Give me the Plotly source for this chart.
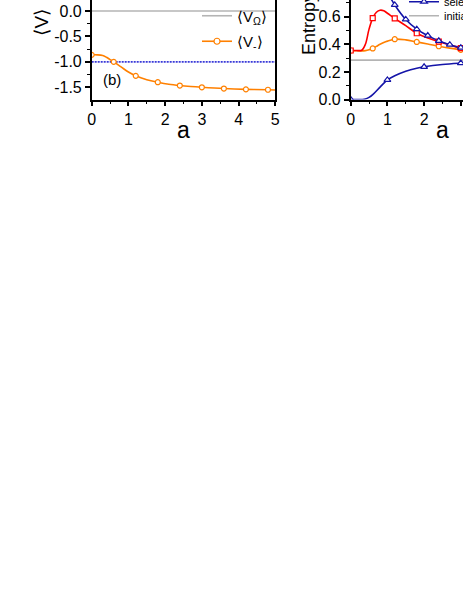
import plotly.graph_objects as go

W, H = 463, 599

# ---- left panel: <V> vs a ----
a_vm = [0, 0.15, 0.3, 0.4, 0.5, 0.6, 0.8, 1.0, 1.2, 1.5, 1.8, 2.1, 2.4, 2.7, 3.0, 3.6, 4.2, 4.8, 5.0]
v_minus = [-0.862, -0.862, -0.875, -0.91, -0.955, -1.0, -1.1, -1.2, -1.275, -1.35, -1.40, -1.44, -1.466, -1.485, -1.50, -1.525, -1.54, -1.548, -1.552]
a_vm_mk = [0, 0.6, 1.2, 1.8, 2.4, 3.0, 3.6, 4.2, 4.8]
v_minus_mk = [-0.862, -1.0, -1.275, -1.40, -1.466, -1.50, -1.525, -1.54, -1.548]
a_flat = [0, 5]
v_plus = [-1.0, -1.0]
v_omega = [0.0, 0.0]

left_yticks = [0.0, -0.5, -1.0, -1.5]
left_yticktext = ["0.0", "-0.5", "-1.0", "-1.5"]
x_ticks = [0, 1, 2, 3, 4, 5]

# ---- right panel: Entropy vs a ----
a_ent = [0, 0.15, 0.3, 0.4, 0.5, 0.6, 0.7, 0.8, 0.9, 1.0, 1.2, 1.5, 1.8, 2.1, 2.4, 2.7, 3.0, 3.2]
s_red = [0.355, 0.355, 0.357, 0.40, 0.51, 0.59, 0.632, 0.647, 0.643, 0.625, 0.588, 0.535, 0.48, 0.445, 0.42, 0.395, 0.372, 0.36]
s_orange = [0.355, 0.353, 0.352, 0.354, 0.36, 0.37, 0.385, 0.40, 0.413, 0.423, 0.437, 0.432, 0.417, 0.402, 0.386, 0.372, 0.36, 0.355]
a_red_mk = [0, 0.6, 1.2, 1.8, 2.4, 3.0]
s_red_mk = [0.355, 0.59, 0.588, 0.48, 0.42, 0.372]
s_orange_mk = [0.355, 0.37, 0.437, 0.417, 0.386, 0.36]

a_sel_hi = [0.9, 1.0, 1.12, 1.2, 1.5, 1.8, 2.1, 2.4, 2.7, 3.0, 3.2]
s_sel_hi = [0.81, 0.77, 0.72, 0.685, 0.58, 0.51, 0.463, 0.425, 0.397, 0.376, 0.365]
a_sel_hi_mk = [1.2, 1.5, 1.8, 2.1, 2.4, 2.7, 3.0]
s_sel_hi_mk = [0.685, 0.58, 0.51, 0.463, 0.425, 0.397, 0.376]

a_sel_lo = [0, 0.3, 0.4, 0.5, 0.6, 0.8, 1.0, 1.2, 1.5, 1.8, 2.0, 2.5, 3.0, 3.2]
s_sel_lo = [0, 0, 0.003, 0.015, 0.035, 0.09, 0.142, 0.172, 0.205, 0.227, 0.237, 0.254, 0.264, 0.267]
a_sel_lo_mk = [0, 1, 2, 3]
s_sel_lo_mk = [0, 0.142, 0.237, 0.264]

s_initial = [0.285, 0.285]
a_init = [0, 3.2]

right_yticks = [0.0, 0.2, 0.4, 0.6]
right_yticktext = ["0.0", "0.2", "0.4", "0.6"]

ORANGE = "#ff8000"
RED = "#ff0000"
BLUE = "#1414a8"
DOTBLUE = "#3a3ad8"
GRAY = "#b4b4b4"
FONT = "Liberation Sans, Arial"

fig = go.Figure()


def add_line(x, y, color, xa, ya, dash="solid"):
    fig.add_trace(go.Scatter(x=x, y=y, mode="lines", xaxis=xa, yaxis=ya, showlegend=False,
                             line=dict(color=color, width=1.6, shape="spline", dash=dash)))


def add_marks(x, y, color, symbol, size, xa, ya):
    fig.add_trace(go.Scatter(x=x, y=y, mode="markers", xaxis=xa, yaxis=ya, showlegend=False,
                             marker=dict(symbol=symbol, size=size, color="white",
                                         line=dict(color=color, width=1.2))))


def add_key(name, color, legend, group, symbol=None, dash="solid"):
    fig.add_trace(go.Scatter(x=[None], y=[None], name=name, legend=legend, legendgroup=group,
                             mode="lines+markers" if symbol else "lines",
                             line=dict(color=color, width=1.6, dash=dash),
                             marker=dict(symbol=symbol or "circle", size=6, color="white",
                                         line=dict(color=color, width=1.2))))


# left panel
add_line(a_flat, v_omega, GRAY, "x", "y")
add_line(a_flat, v_plus, DOTBLUE, "x", "y", dash="2px,1px")
add_line(a_vm, v_minus, ORANGE, "x", "y")
add_marks(a_vm_mk, v_minus_mk, ORANGE, "circle", 5, "x", "y")

add_key("⟨V<sub>+</sub>⟩", DOTBLUE, "legend", "g1", dash="2px,1px")
add_key("⟨V<sub>Ω</sub>⟩", GRAY, "legend", "g2")
add_key("⟨V<sub>-</sub>⟩", ORANGE, "legend", "g3", symbol="circle")

# right panel
add_line(a_init, s_initial, GRAY, "x2", "y2")
add_line(a_sel_lo, s_sel_lo, BLUE, "x2", "y2")
add_line(a_ent, s_orange, ORANGE, "x2", "y2")
add_line(a_ent, s_red, RED, "x2", "y2")
add_line(a_sel_hi, s_sel_hi, BLUE, "x2", "y2")
add_marks(a_sel_lo_mk, s_sel_lo_mk, BLUE, "triangle-up", 6, "x2", "y2")
add_marks(a_red_mk, s_orange_mk, ORANGE, "circle", 5, "x2", "y2")
add_marks(a_red_mk, s_red_mk, RED, "square", 5, "x2", "y2")
add_marks(a_sel_hi_mk, s_sel_hi_mk, BLUE, "triangle-up", 6, "x2", "y2")

add_key("selected", BLUE, "legend2", "s1", symbol="triangle-up")
add_key("initial", GRAY, "legend3", "s2")

y_dom = [1 - 99.5 / H, 1]
axis_common = dict(showline=True, linecolor="black", linewidth=1.5, ticks="outside",
                   ticklen=5, tickwidth=1.5, tickcolor="black", showgrid=False, zeroline=False,
                   tickfont=dict(family=FONT, size=16, color="black"))

fig.update_layout(
    width=W, height=H,
    margin=dict(l=0, r=0, t=0, b=0, autoexpand=False),
    paper_bgcolor="white", plot_bgcolor="white",
    font=dict(family=FONT, color="black"),
    xaxis=dict(domain=[91.7 / W, 275.3 / W], range=[0, 5], tickvals=x_ticks, mirror=True,
               minor=dict(dtick=0.5, ticks="outside", ticklen=3, tickwidth=1.2, tickcolor="black"),
               anchor="y", **axis_common),
    yaxis=dict(domain=y_dom, range=[-1.74, 0.216], tickvals=left_yticks, ticktext=left_yticktext,
               mirror=True, anchor="x",
               minor=dict(dtick=0.25, ticks="outside", ticklen=3, tickwidth=1.2, tickcolor="black"),
               **axis_common),
    xaxis2=dict(domain=[350.7 / W, 1], range=[0, (W - 350.7) / 36.7], tickvals=x_ticks, anchor="y2",
                minor=dict(dtick=0.5, ticks="outside", ticklen=3, tickwidth=1.2, tickcolor="black"),
                **axis_common),
    yaxis2=dict(domain=y_dom, range=[0, 0.721], tickvals=right_yticks, ticktext=right_yticktext,
                anchor="x2",
                minor=dict(dtick=0.1, ticks="outside", ticklen=3, tickwidth=1.2, tickcolor="black"),
                **axis_common),
    legend=dict(x=197 / W, y=1 + 26 / H, xanchor="left", yanchor="top", bgcolor="rgba(0,0,0,0)",
                tracegroupgap=3, font=dict(family=FONT, size=15)),
    legend2=dict(x=404 / W, y=1 - 1.7 / H, xanchor="left", yanchor="middle", bgcolor="rgba(0,0,0,0)",
                 xref="container", font=dict(family=FONT, size=11)),
    legend3=dict(x=404 / W, y=1 - 15.7 / H, xanchor="left", yanchor="middle", bgcolor="rgba(0,0,0,0)",
                 xref="container", font=dict(family=FONT, size=11)),
)

def px_ann(text, x, y, size, angle=0):
    fig.add_annotation(text=text, x=x / W, y=1 - y / H, xref="paper", yref="paper",
                       showarrow=False, xanchor="center", yanchor="middle", textangle=angle,
                       font=dict(family=FONT, size=size, color="black"))


px_ann("(b)", 112, 79, 15)
px_ann("⟨V⟩", 41, 22.5, 19, -90)
px_ann("Entropy", 309, 24, 18, -90)
px_ann("a", 183.5, 130, 23)
px_ann("a", 442.6, 130, 23)

# page body has a default 8px margin; drop it so the figure sits at the window corner
fig.write_html("out.html", config={"displayModeBar": False},
               post_script="document.body.style.margin='0';")
